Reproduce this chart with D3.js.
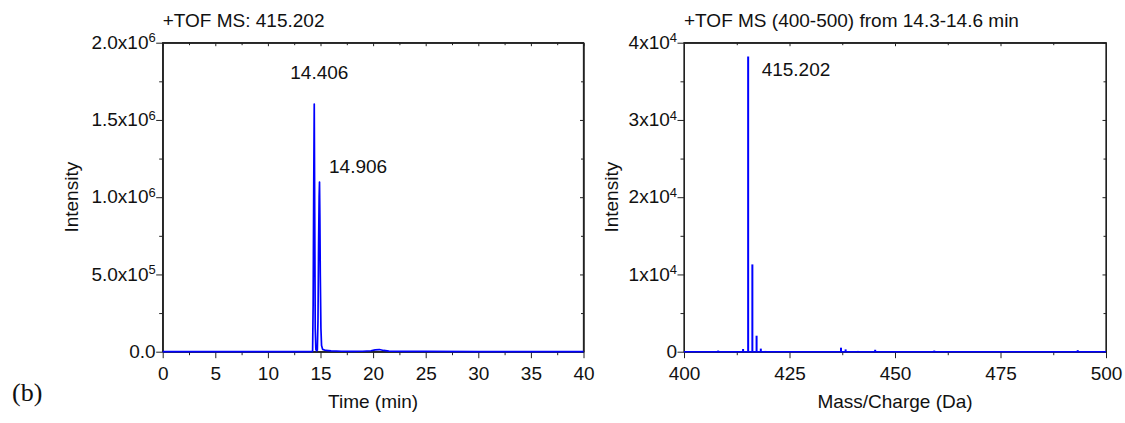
<!DOCTYPE html>
<html>
<head>
<meta charset="utf-8">
<script src="https://cdn.jsdelivr.net/npm/d3@7"></script>
<style>
  body { margin: 0; background: #fff; }
  svg text { font-family: "Liberation Sans", Arial, sans-serif; fill: #111; }
  .axis path, .axis line { stroke: #222; }
</style>
</head>
<body>
<div id="viz"></div>
<script>
var width = 1125;
var height = 423;

// chromatogram (time in min, intensity)
var chromTime = [0, 5, 10, 14.0, 14.25, 14.3, 14.36, 14.406, 14.45, 14.5, 14.56, 14.62, 14.7, 14.76, 14.82, 14.87, 14.906, 14.94, 14.98, 15.04, 15.1, 15.2, 15.5, 16, 17, 18, 19, 19.8, 20.2, 20.6, 21, 21.5, 23, 25, 30, 35, 40];
var chromInt = [0, 0, 0, 0, 2000, 300000, 1100000, 1603000, 900000, 150000, 15000, 6000, 10000, 200000, 700000, 1000000, 1098000, 874000, 500000, 150000, 40000, 15000, 8000, 5000, 3000, 2000, 3000, 6000, 12000, 14000, 8000, 4000, 2000, 1500, 1000, 800, 500];

// mass spectrum sticks (m/z, intensity)
var specMz = [408.1, 414.0, 415.202, 416.2, 417.2, 418.2, 419.3, 437.2, 438.3, 441.2, 445.3, 459.3, 493.3];
var specInt = [150, 350, 38200, 11300, 2070, 400, 100, 520, 300, 100, 250, 150, 200];

var leftTicks = [0, 500000, 1000000, 1500000, 2000000];
var leftTickLabels = [["0.0", ""], ["5.0x10", "5"], ["1.0x10", "6"], ["1.5x10", "6"], ["2.0x10", "6"]];
var rightTicks = [0, 10000, 20000, 30000, 40000];
var rightTickLabels = [["0", ""], ["1x10", "4"], ["2x10", "4"], ["3x10", "4"], ["4x10", "4"]];

var plotTop = 42.7, plotBottom = 351.7;
var fs = "19px";

var svg = d3.select("#viz").append("svg")
  .attr("width", width)
  .attr("height", height);

function drawPanel(opt) {
  var x = d3.scaleLinear().domain(opt.xDomain).range([opt.x0, opt.x1]);
  var y = d3.scaleLinear().domain(opt.yDomain).range([plotBottom, plotTop]);
  var g = svg.append("g");

  // minor ticks
  g.append("g").attr("class", "axis")
    .attr("transform", `translate(0,${plotBottom})`)
    .call(d3.axisBottom(x).tickValues(opt.xMinor).tickSize(3.5).tickFormat("").tickSizeOuter(0));
  g.append("g").attr("class", "axis")
    .attr("transform", `translate(${opt.x0},0)`)
    .call(d3.axisLeft(y).tickValues(opt.yMinor).tickSize(3.5).tickFormat("").tickSizeOuter(0));
  // top & right mirror
  g.append("g").attr("class", "axis")
    .attr("transform", `translate(0,${plotTop})`)
    .call(d3.axisTop(x).tickValues(opt.xMinor).tickSize(-2.5).tickFormat("").tickSizeOuter(0));
  g.append("g").attr("class", "axis")
    .attr("transform", `translate(${opt.x1},0)`)
    .call(d3.axisRight(y).tickValues(opt.yMinor).tickSize(-2.5).tickFormat("").tickSizeOuter(0));

  // major
  var xa = g.append("g").attr("class", "axis")
    .attr("transform", `translate(0,${plotBottom})`)
    .call(d3.axisBottom(x).tickValues(opt.xTicks).tickSize(6.5).tickPadding(8).tickSizeOuter(0));
  xa.selectAll("text").style("font-size", fs);

  var ya = g.append("g").attr("class", "axis")
    .attr("transform", `translate(${opt.x0},0)`)
    .call(d3.axisLeft(y).tickValues(opt.yTicks).tickSize(6.5).tickPadding(4).tickSizeOuter(0));
  ya.selectAll(".tick text").each(function(d, i) {
    var t = d3.select(this).text("").style("font-size", fs).attr("dy", "0.3em").attr("x", -7);
    var lab = opt.yLabels[i];
    t.append("tspan").text(lab[0]);
    if (lab[1]) {
      t.append("tspan").text(lab[1]).attr("dy", "-0.5em").style("font-size", "13px");
    }
  });

  g.append("g").attr("class", "axis")
    .attr("transform", `translate(0,${plotTop})`)
    .call(d3.axisTop(x).tickValues(opt.xTicks).tickSize(-3.5).tickFormat("").tickSizeOuter(0));
  g.append("g").attr("class", "axis")
    .attr("transform", `translate(${opt.x1},0)`)
    .call(d3.axisRight(y).tickValues(opt.yTicks).tickSize(-3.5).tickFormat("").tickSizeOuter(0));

  // frame
  g.append("rect")
    .attr("x", opt.x0).attr("y", plotTop)
    .attr("width", opt.x1 - opt.x0).attr("height", plotBottom - plotTop)
    .attr("fill", "none").attr("stroke", "#222").attr("stroke-width", 1.3);

  // titles
  g.append("text").attr("x", opt.x0).attr("y", 27)
    .style("font-size", fs).text(opt.title);
  g.append("text").attr("x", (opt.x0 + opt.x1) / 2).attr("y", 408)
    .attr("text-anchor", "middle").style("font-size", fs).text(opt.xLabel);
  g.append("text")
    .attr("transform", `translate(${opt.yLabelX},${(plotTop + plotBottom) / 2}) rotate(-90)`)
    .attr("text-anchor", "middle").style("font-size", fs).text("Intensity");

  return { g: g, x: x, y: y };
}

// left: chromatogram
var L = drawPanel({
  xDomain: [0, 40], yDomain: [0, 2000000], x0: 162.7, x1: 583.5,
  xTicks: d3.range(0, 41, 5), xMinor: d3.range(2.5, 40, 5),
  yTicks: leftTicks, yMinor: [250000, 750000, 1250000, 1750000],
  yLabels: leftTickLabels,
  title: "+TOF MS: 415.202", xLabel: "Time (min)", yLabelX: 78
});

var chrom = chromTime.map((t, i) => ({ t: t, v: chromInt[i] }));
var line = d3.line().x(d => L.x(d.t)).y(d => L.y(d.v));
L.g.append("path").datum(chrom)
  .attr("d", line)
  .attr("fill", "none").attr("stroke", "#0000ff").attr("stroke-width", 1.7)
  .attr("stroke-linejoin", "round");

L.g.append("text").attr("x", L.x(14.406) - 24).attr("y", 78.5)
  .style("font-size", fs).text("14.406");
L.g.append("text").attr("x", L.x(14.906) + 9.5).attr("y", 172.5)
  .style("font-size", fs).text("14.906");

// right: mass spectrum
var R = drawPanel({
  xDomain: [400, 500], yDomain: [0, 40000], x0: 684, x1: 1106,
  xTicks: d3.range(400, 501, 25), xMinor: d3.range(412.5, 500, 25),
  yTicks: rightTicks, yMinor: [5000, 15000, 25000, 35000],
  yLabels: rightTickLabels,
  title: "+TOF MS (400-500) from 14.3-14.6 min", xLabel: "Mass/Charge (Da)", yLabelX: 618
});

R.g.append("line")
  .attr("x1", R.x(400)).attr("x2", R.x(500))
  .attr("y1", R.y(0)).attr("y2", R.y(0))
  .attr("stroke", "#0000ff").attr("stroke-width", 1.6);

R.g.selectAll(".stick")
  .data(specMz.map((m, i) => ({ m: m, v: specInt[i] })))
  .enter().append("line")
  .attr("class", "stick")
  .attr("x1", d => R.x(d.m)).attr("x2", d => R.x(d.m))
  .attr("y1", R.y(0)).attr("y2", d => R.y(d.v))
  .attr("stroke", "#0000ff").attr("stroke-width", 2);

R.g.append("text").attr("x", R.x(415.202) + 13.5).attr("y", 75.5)
  .style("font-size", fs).text("415.202");

svg.append("text").attr("x", 12).attr("y", 401)
  .style("font-family", "'Liberation Serif', 'Times New Roman', serif")
  .style("font-size", "26px").text("(b)");
</script>
</body>
</html>
